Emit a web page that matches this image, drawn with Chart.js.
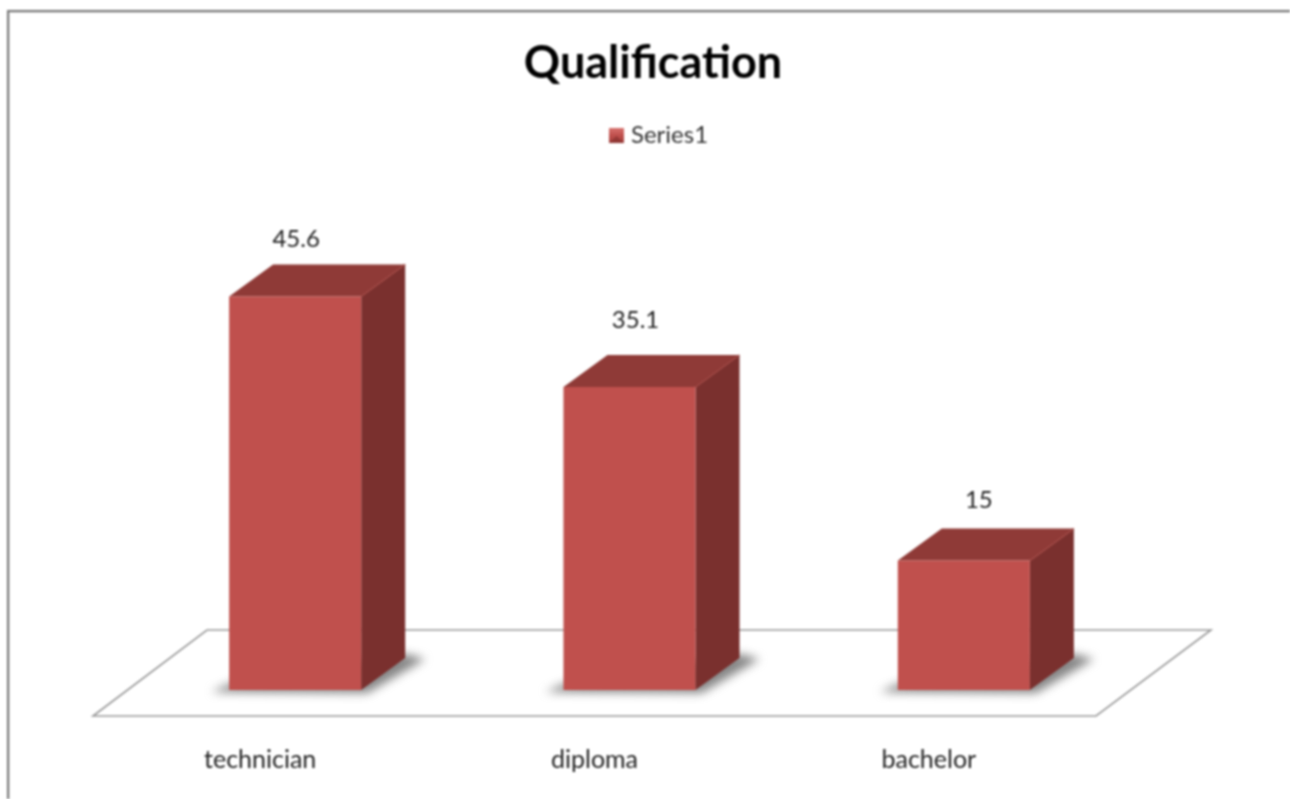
<!DOCTYPE html>
<html>
<head>
<meta charset="utf-8">
<style>
html,body{margin:0;padding:0;background:#fff;overflow:hidden}
#wrap{position:relative;width:1290px;height:799px}
canvas#c{display:block;filter:blur(0.8px)}
</style>
<script src="https://cdn.jsdelivr.net/npm/chart.js@4/dist/chart.umd.min.js"></script>
</head>
<body>
<div id="wrap"><canvas id="c" width="1290" height="799"></canvas></div>
<script>
const titleText = "Qualification";
const seriesName = "Series1";
const categories = ["technician", "diploma", "bachelor"];
const seriesValues = [45.6, 35.1, 15];
const valueLabels = ["45.6", "35.1", "15"];

const FRONT = "#C0504D", TOP = "#8F3A37", SIDE = "#7A302E";
const DX = 44, DY = -32;
const labelNudge = [[1, -57], [6, -67], [15, -60]];

function legendSwatch() {
  const s = document.createElement("canvas");
  s.width = 15; s.height = 15;
  const g = s.getContext("2d");
  const lg = g.createLinearGradient(0, 0, 0, 15);
  lg.addColorStop(0, "#D8726E"); lg.addColorStop(0.5, "#C0504D"); lg.addColorStop(1, "#A54340");
  g.fillStyle = lg; g.fillRect(0, 0, 15, 15);
  g.fillStyle = "rgba(120,40,38,.5)";
  g.beginPath(); g.moveTo(0, 15); g.lineTo(7.5, 8); g.lineTo(15, 15); g.closePath(); g.fill();
  return s;
}

const scene = {
  id: "scene",
  beforeInit(chart) { chart.ctx.textRendering = "optimizeSpeed"; },
  afterLayout(chart) {
    chart.legend.left += 8;
    chart.legend.right += 8;
  },
  beforeDatasetsDraw(chart) {
    const ctx = chart.ctx, a = chart.chartArea;
    ctx.save();
    // outer frame (top and left only)
    ctx.fillStyle = "#777";
    ctx.fillRect(7, 10, 1283, 2);
    ctx.fillRect(7, 10, 2, 789);
    ctx.fillStyle = "#dcdcdc";
    ctx.fillRect(9, 12, 1281, 1);
    ctx.fillRect(9, 12, 1, 787);
    // floor
    ctx.strokeStyle = "#999";
    ctx.lineWidth = 1.6;
    ctx.lineJoin = "miter";
    ctx.beginPath();
    ctx.moveTo(a.left - 35, a.bottom + 26);
    ctx.lineTo(a.left + 79, a.bottom - 60);
    ctx.lineTo(a.right + 80, a.bottom - 60);
    ctx.lineTo(a.right - 35, a.bottom + 26);
    ctx.closePath();
    ctx.stroke();
    // boxes
    const bars = chart.getDatasetMeta(0).data;
    bars.forEach(b => {
      const w = b.width, l = b.x - w / 2, r = b.x + w / 2, t = b.y, y0 = a.bottom;
      // soft ground shadow
      ctx.save();
      ctx.filter = "blur(5px)";
      ctx.fillStyle = "rgba(110,110,110,.85)";
      ctx.beginPath();
      ctx.moveTo(l - 18, y0 + 2);
      ctx.lineTo(r + 6, y0 + 3);
      ctx.lineTo(r + DX + 20, y0 + DY + 1);
      ctx.lineTo(r + DX, y0 + DY - 4);
      ctx.lineTo(l, y0 - 6);
      ctx.closePath();
      ctx.fill();
      ctx.restore();
      // top face
      ctx.fillStyle = TOP;
      ctx.beginPath();
      ctx.moveTo(l, t); ctx.lineTo(l + DX, t + DY); ctx.lineTo(r + DX, t + DY); ctx.lineTo(r, t);
      ctx.closePath(); ctx.fill();
      // side face
      ctx.fillStyle = SIDE;
      ctx.beginPath();
      ctx.moveTo(r, t); ctx.lineTo(r + DX, t + DY); ctx.lineTo(r + DX, y0 + DY); ctx.lineTo(r, y0);
      ctx.closePath(); ctx.fill();
      // bevel highlight on the shared top/side edge
      ctx.strokeStyle = "#A04844"; ctx.lineWidth = 1.5;
      ctx.beginPath();
      ctx.moveTo(r, t); ctx.lineTo(r + DX, t + DY);
      ctx.stroke();
    });
    ctx.restore();
  },
  afterDatasetsDraw(chart) {
    const ctx = chart.ctx;
    ctx.save();
    ctx.fillStyle = "#222";
    ctx.font = "24px Lato";
    ctx.textAlign = "center";
    ctx.textBaseline = "middle";
    chart.getDatasetMeta(0).data.forEach((b, i) => {
      ctx.fillText(valueLabels[i], b.x + labelNudge[i][0], b.y + labelNudge[i][1]);
    });
    ctx.restore();
  }
};

new Chart(document.getElementById("c"), {
  type: "bar",
  data: {
    labels: categories,
    datasets: [{
      label: seriesName,
      data: seriesValues,
      backgroundColor: FRONT,
      borderWidth: 0,
      categoryPercentage: 1,
      barPercentage: 0.395
    }]
  },
  plugins: [scene],
  options: {
    responsive: false,
    animation: false,
    events: [],
    layout: { padding: { left: 16, right: 0, top: 0, bottom: 0 } },
    plugins: {
      tooltip: { enabled: false },
      title: {
        display: true,
        text: titleText,
        color: "#000",
        font: { family: "Lato", size: 45, weight: "bold" },
        padding: { top: 36, bottom: 8.4 }
      },
      legend: {
        display: true,
        position: "top",
        labels: {
          font: { family: "Lato", size: 24 },
          color: "#333",
          usePointStyle: true,
          pointStyle: legendSwatch(),
          boxWidth: 5,
          boxHeight: 15,
          padding: 25
        }
      }
    },
    scales: {
      x: {
        grid: { display: false },
        border: { display: false },
        ticks: {
          color: "#222",
          font: { family: "Lato", size: 25 },
          labelOffset: -35,
          padding: 47,
          maxRotation: 0
        },
        afterFit(s) { s.height = 109; }
      },
      y: {
        min: 0,
        max: 61.7,
        display: true,
        grid: { display: false },
        border: { display: false },
        ticks: { display: false },
        afterFit(s) { s.width = 112; }
      },
      yRight: {
        position: "right",
        min: 0,
        max: 61.7,
        display: true,
        grid: { display: false },
        border: { display: false },
        ticks: { display: false },
        afterFit(s) { s.width = 159; }
      }
    }
  }
});
</script>
</body>
</html>
